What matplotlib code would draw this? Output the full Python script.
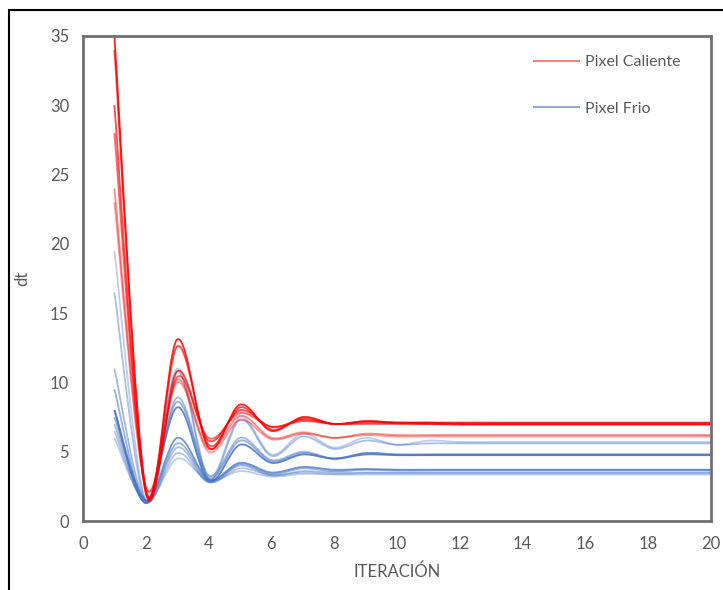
import numpy as np
import matplotlib.pyplot as plt
from matplotlib.path import Path
from matplotlib.patches import PathPatch, Rectangle
from matplotlib.lines import Line2D

plt.rcParams['font.family'] = ['Lato', 'DejaVu Sans']

iteracion = list(range(1, 21))

# pixel caliente (red) series, dt per iteration
caliente = [
    [35.0, 2.3, 13.1, 5.3, 8.4, 6.5, 7.5, 7.0, 7.2, 7.1, 7.1, 7.1, 7.1, 7.1, 7.1, 7.1, 7.1, 7.1, 7.1, 7.1],
    [34.0, 2.2, 12.6, 5.5, 8.2, 6.6, 7.4, 7.0, 7.2, 7.1, 7.1, 7.0, 7.0, 7.0, 7.0, 7.0, 7.0, 7.0, 7.0, 7.0],
    [30.0, 2.0, 10.8, 5.8, 8.0, 6.8, 7.3, 7.0, 7.1, 7.05, 7.0, 7.0, 7.0, 7.0, 7.0, 7.0, 7.0, 7.0, 7.0, 7.0],
    [28.0, 2.1, 10.4, 6.0, 7.8, 6.8, 7.2, 7.0, 7.0, 7.0, 7.0, 6.95, 6.95, 6.95, 6.95, 6.95, 6.95, 6.95, 6.95, 6.95],
    [24.0, 2.5, 10.2, 5.2, 7.6, 6.0, 6.4, 6.0, 6.3, 6.2, 6.2, 6.2, 6.2, 6.2, 6.2, 6.2, 6.2, 6.2, 6.2, 6.2],
    [23.0, 2.4, 10.0, 5.0, 7.3, 5.9, 6.3, 6.0, 6.2, 6.1, 6.1, 6.1, 6.1, 6.1, 6.1, 6.1, 6.1, 6.1, 6.1, 6.1],
]
caliente_alpha = [0.85, 0.7, 0.7, 0.6, 0.45, 0.4]

# pixel frio (blue) series
frio = [
    [19.5, 1.5, 11.0, 3.2, 7.5, 4.8, 6.3, 5.3, 6.0, 5.5, 5.8, 5.7, 5.7, 5.7, 5.7, 5.7, 5.7, 5.7, 5.7, 5.7],
    [16.5, 1.4, 10.8, 3.0, 7.3, 4.7, 6.1, 5.2, 5.8, 5.5, 5.6, 5.6, 5.6, 5.6, 5.6, 5.6, 5.6, 5.6, 5.6, 5.6],
    [11.0, 1.5, 8.9, 3.3, 6.0, 4.4, 5.0, 4.5, 4.9, 4.8, 4.8, 4.8, 4.8, 4.8, 4.8, 4.8, 4.8, 4.8, 4.8, 4.8],
    [9.5, 1.4, 8.6, 3.1, 5.8, 4.3, 4.9, 4.5, 4.9, 4.8, 4.8, 4.8, 4.8, 4.8, 4.8, 4.8, 4.8, 4.8, 4.8, 4.8],
    [8.0, 1.3, 8.2, 2.9, 5.5, 4.2, 4.8, 4.5, 4.8, 4.75, 4.75, 4.75, 4.75, 4.75, 4.75, 4.75, 4.75, 4.75, 4.75, 4.75],
    [8.0, 1.5, 6.0, 3.0, 4.2, 3.5, 3.9, 3.7, 3.75, 3.7, 3.7, 3.7, 3.7, 3.7, 3.7, 3.7, 3.7, 3.7, 3.7, 3.7],
    [7.5, 1.4, 5.6, 2.9, 4.1, 3.4, 3.8, 3.6, 3.7, 3.65, 3.65, 3.65, 3.65, 3.65, 3.65, 3.65, 3.65, 3.65, 3.65, 3.65],
    [7.0, 1.3, 5.3, 2.8, 4.0, 3.3, 3.6, 3.5, 3.5, 3.5, 3.5, 3.5, 3.5, 3.5, 3.5, 3.5, 3.5, 3.5, 3.5, 3.5],
    [6.5, 1.3, 4.9, 2.8, 3.8, 3.3, 3.5, 3.4, 3.45, 3.45, 3.45, 3.45, 3.45, 3.45, 3.45, 3.45, 3.45, 3.45, 3.45, 3.45],
    [6.0, 1.4, 4.5, 2.9, 3.6, 3.2, 3.4, 3.35, 3.35, 3.35, 3.35, 3.35, 3.35, 3.35, 3.35, 3.35, 3.35, 3.35, 3.35, 3.35],
]
frio_alpha = [0.35, 0.45, 0.5, 0.55, 0.85, 0.75, 0.55, 0.45, 0.4, 0.35]

x_ticks = list(range(0, 21, 2))
y_ticks = list(range(0, 36, 5))


def smooth_path(x, y):
    # excel-like smoothed line: catmull-rom as cubic bezier segments
    pts = np.column_stack([x, y]).astype(float)
    n = len(pts)
    verts = [pts[0]]
    codes = [Path.MOVETO]
    for i in range(n - 1):
        p0 = pts[i - 1] if i > 0 else pts[i]
        p1 = pts[i]
        p2 = pts[i + 1]
        p3 = pts[i + 2] if i + 2 < n else pts[i + 1]
        c1 = p1 + (p2 - p0) / 6
        c2 = p2 - (p3 - p1) / 6
        verts += [c1, c2, p2]
        codes += [Path.CURVE4] * 3
    return Path(verts, codes)


fig = plt.figure(figsize=(7.23, 5.90), dpi=100)
ax = fig.add_axes([83 / 723, 1 - 521 / 590, 628 / 723, 485 / 590])

for vals, a in zip(frio, frio_alpha):
    ax.add_patch(PathPatch(smooth_path(iteracion, vals), fill=False,
                           edgecolor='#4472C4', alpha=a, lw=1.3))
for vals, a in zip(caliente, caliente_alpha):
    ax.add_patch(PathPatch(smooth_path(iteracion, vals), fill=False,
                           edgecolor='#FF0000', alpha=a, lw=1.3))

ax.set_xlim(0, 20)
ax.set_ylim(0, 35)
ax.set_xticks(x_ticks)
ax.set_yticks(y_ticks)
ax.tick_params(axis='x', length=0, labelsize=12, colors='#595959', pad=11)
ax.tick_params(axis='y', length=0, labelsize=12, colors='#595959', pad=10)
for s in ax.spines.values():
    s.set_color('#707070')
    s.set_linewidth(2)

ax.set_xlabel('ITERACIÓN', fontsize=12, color='#595959', labelpad=8)
ax.set_ylabel('dt', fontsize=12, color='#595959', labelpad=14)

handles = [Line2D([], [], color='#FF0000', alpha=0.5, lw=1.5),
           Line2D([], [], color='#4472C4', alpha=0.6, lw=1.5)]
ax.legend(handles, ['Pixel Caliente', 'Pixel Frio'], loc='upper left',
          frameon=False, fontsize=11.5, labelcolor='#595959',
          bbox_to_anchor=(0.695, 0.99), labelspacing=2.0, handlelength=2.8,
          handletextpad=0.4)

# outer chart border
fig.patches.append(Rectangle((9 / 723, -0.1), 1.2, 1 - 10 / 590 + 0.1,
                             transform=fig.transFigure, fill=False,
                             edgecolor='black', lw=1.5))

fig.savefig('out.png', dpi=100)
